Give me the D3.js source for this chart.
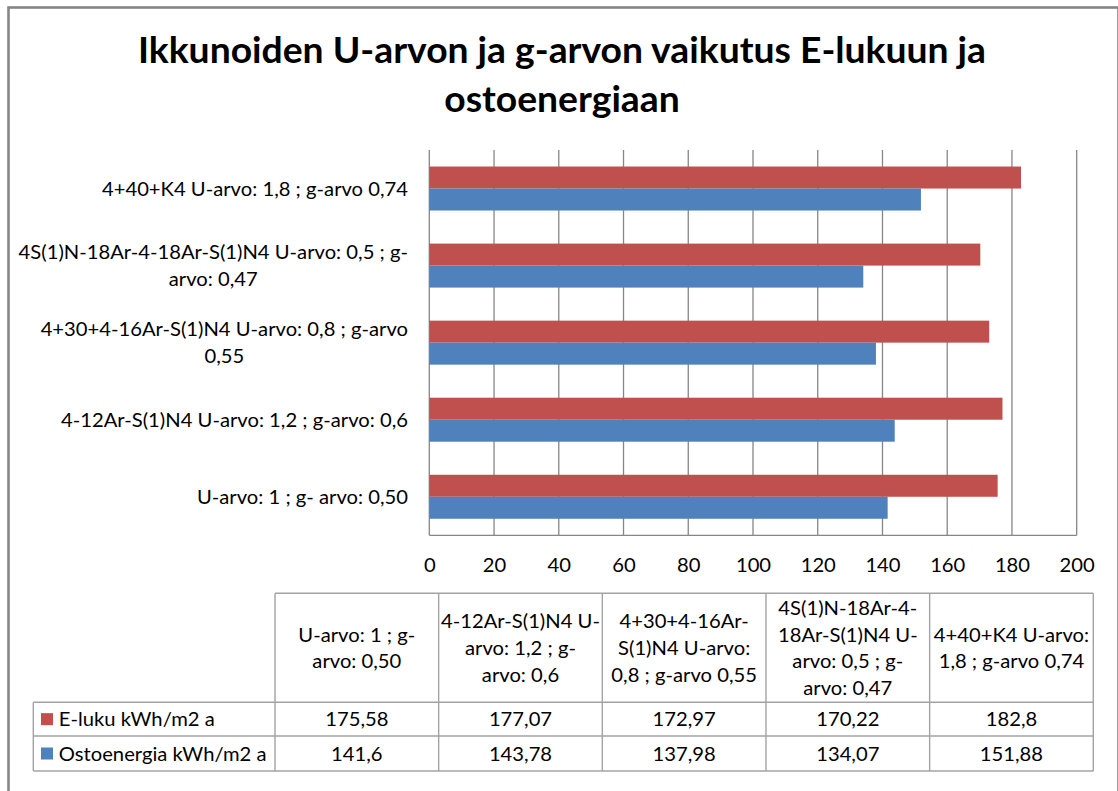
<!DOCTYPE html>
<html>
<head>
<meta charset="utf-8">
<script src="https://cdnjs.cloudflare.com/ajax/libs/d3/7.8.5/d3.min.js"></script>
<style>
  html, body { margin: 0; padding: 0; background: #ffffff; }
  svg { display: block; }
  text { font-family: Lato, "Open Sans", "Noto Sans", sans-serif; fill: #000; }
</style>
</head>
<body>
<svg id="chart" width="1118" height="791"></svg>
<script>
// ---------------- DATA ----------------
const titleLines = ["Ikkunoiden U-arvon ja g-arvon vaikutus E-lukuun ja", "ostoenergiaan"];
const categories = [
  "U-arvo: 1 ; g- arvo: 0,50",
  "4-12Ar-S(1)N4 U-arvo: 1,2 ; g-arvo: 0,6",
  "4+30+4-16Ar-S(1)N4 U-arvo: 0,8 ; g-arvo 0,55",
  "4S(1)N-18Ar-4-18Ar-S(1)N4 U-arvo: 0,5 ; g-arvo: 0,47",
  "4+40+K4 U-arvo: 1,8 ; g-arvo 0,74"
];
const axisLabelLines = [
  ["U-arvo: 1 ; g- arvo: 0,50"],
  ["4-12Ar-S(1)N4 U-arvo: 1,2 ; g-arvo: 0,6"],
  ["4+30+4-16Ar-S(1)N4 U-arvo: 0,8 ; g-arvo", "0,55"],
  ["4S(1)N-18Ar-4-18Ar-S(1)N4 U-arvo: 0,5 ; g-", "arvo: 0,47"],
  ["4+40+K4 U-arvo: 1,8 ; g-arvo 0,74"]
];
const tableHeaderLines = [
  ["U-arvo: 1 ; g-", "arvo: 0,50"],
  ["4-12Ar-S(1)N4 U-", "arvo: 1,2 ; g-", "arvo: 0,6"],
  ["4+30+4-16Ar-", "S(1)N4 U-arvo:", "0,8 ; g-arvo 0,55"],
  ["4S(1)N-18Ar-4-", "18Ar-S(1)N4 U-", "arvo: 0,5 ; g-", "arvo: 0,47"],
  ["4+40+K4 U-arvo:", "1,8 ; g-arvo 0,74"]
];
const seriesNames = ["E-luku kWh/m2 a", "Ostoenergia kWh/m2 a"];
const eLuku = [175.58, 177.07, 172.97, 170.22, 182.8];
const ostoenergia = [141.6, 143.78, 137.98, 134.07, 151.88];
const xTicks = [0, 20, 40, 60, 80, 100, 120, 140, 160, 180, 200];
const seriesColors = ["#C0504D", "#4F81BD"];

// ---------------- SETUP ----------------
const svg = d3.select("#chart");
const series = [eLuku, ostoenergia];
const fiLocale = d3.formatLocale({decimal: ",", thousands: "\u00a0", grouping: [3], currency: ["", " €"]});
const fmt = fiLocale.format("~f");

const gridColor = "#868686";
const tableColor = "#A3A3A3";
const fs = 20;          // regular font size
const lineH = 26.8;     // line spacing for wrapped text
const base = 7.2;       // baseline offset from visual center

// chart border
svg.append("rect")
  .attr("x", 8.5).attr("y", 7.5).attr("width", 1110).attr("height", 900)
  .attr("fill", "#fff").attr("stroke", gridColor).attr("stroke-width", 2.6);

// scales
const x = d3.scaleLinear().domain([0, 200]).range([429.3, 1076.7]);
const y = d3.scaleBand().domain(categories.slice().reverse()).range([150, 535.3])
  .paddingInner(0.429).paddingOuter(0.2145);
const ySub = d3.scaleBand().domain(d3.range(series.length)).range([0, y.bandwidth()]);

// gridlines
const plot = svg.append("g");
plot.selectAll("line.grid").data(xTicks).join("line")
  .attr("x1", d => x(d)).attr("x2", d => x(d))
  .attr("y1", y.range()[0]).attr("y2", y.range()[1])
  .attr("stroke", gridColor).attr("stroke-width", 1.3);
// bottom axis line
plot.append("line")
  .attr("x1", x(0)).attr("x2", x(200)).attr("y1", y.range()[1]).attr("y2", y.range()[1])
  .attr("stroke", gridColor).attr("stroke-width", 1.3);

// bars
series.forEach((vals, si) => {
  plot.append("g").selectAll("rect").data(categories).join("rect")
    .attr("x", x(0))
    .attr("y", (c) => y(c) + ySub(si))
    .attr("width", (c, i) => x(vals[i]) - x(0))
    .attr("height", ySub.bandwidth())
    .attr("fill", seriesColors[si]);
});

// x axis labels
const xAxis = d3.axisBottom(x).tickValues(xTicks).tickSize(0).tickPadding(22.3).tickFormat(d3.format("d"));
const gx = svg.append("g").attr("transform", `translate(0,${y.range()[1]})`).call(xAxis);
gx.select(".domain").remove();
gx.selectAll("text").attr("class", "fit").attr("font-size", fs).attr("font-family", null).attr("fill", "#000");

// title
const titleG = svg.append("g");
titleLines.forEach((t, i) => {
  titleG.append("text").attr("class", "titlefit")
    .attr("x", 562).attr("y", 63 + i * 48.8)
    .attr("text-anchor", "middle")
    .attr("font-size", 36).attr("font-weight", "bold")
    .text(t);
});

// ---------------- TEXT CONDENSING (Calibri-like metrics) ----------------
function natural(sel) { return sel.node().getComputedTextLength(); }
const calib = svg.append("text").attr("font-size", fs).text(axisLabelLines[1][0]);
const kReg = 347 / natural(calib);
calib.remove();
const kBold = 848 / natural(titleG.select("text"));

function fitText(sel, k) {
  sel.each(function() {
    const w = this.getComputedTextLength();
    d3.select(this).attr("textLength", w * k).attr("lengthAdjust", "spacingAndGlyphs");
  });
}
fitText(titleG.selectAll("text"), kBold);

// category labels (right-aligned block, lines centered within block)
const yLab = svg.append("g");
categories.forEach((c, i) => {
  const lines = axisLabelLines[i];
  const cy = y(c) + y.bandwidth() / 2;
  const texts = lines.map((l, j) => yLab.append("text")
    .attr("font-size", fs).attr("text-anchor", "middle")
    .attr("y", cy + (j - (lines.length - 1) / 2) * lineH + base)
    .text(l));
  const maxW = d3.max(texts, t => natural(t)) * kReg;
  texts.forEach(t => { fitText(t, kReg); t.attr("x", 408 - maxW / 2); });
});

fitText(gx.selectAll("text"), kReg);

// ---------------- DATA TABLE ----------------
const tx = d3.scaleBand().domain(categories).range([275, 1093.3]);
const rowsY = [593.3, 702.3, 736, 771];
const legendLeft = 33.3;
const table = svg.append("g");

// header text
categories.forEach((c, i) => {
  const lines = tableHeaderLines[i];
  const cy = (rowsY[0] + rowsY[1]) / 2;
  lines.forEach((l, j) => {
    const t = table.append("text").attr("font-size", fs).attr("text-anchor", "middle")
      .attr("x", tx(c) + tx.bandwidth() / 2)
      .attr("y", cy + (j - (lines.length - 1) / 2) * lineH + base)
      .text(l);
    fitText(t, kReg);
  });
});

// value rows
series.forEach((vals, si) => {
  const cy = (rowsY[si + 1] + rowsY[si + 2]) / 2;
  categories.forEach((c, i) => {
    const t = table.append("text").attr("font-size", fs).attr("text-anchor", "middle")
      .attr("x", tx(c) + tx.bandwidth() / 2).attr("y", cy + base)
      .text(fmt(vals[i]));
    fitText(t, kReg);
  });
  table.append("rect")
    .attr("x", legendLeft + 7.7).attr("y", cy - 6).attr("width", 12).attr("height", 12)
    .attr("fill", seriesColors[si]);
  const lt = table.append("text").attr("font-size", fs).attr("text-anchor", "start")
    .attr("x", legendLeft + 25.5).attr("y", cy + base).text(seriesNames[si]);
  fitText(lt, kReg);
});

// table grid lines
const tl = table.append("g").attr("stroke", tableColor).attr("stroke-width", 1.4);
// header top
tl.append("line").attr("x1", tx.range()[0]).attr("x2", tx.range()[1]).attr("y1", rowsY[0]).attr("y2", rowsY[0]);
// row separators (full width)
[rowsY[1], rowsY[2], rowsY[3]].forEach(yy => {
  tl.append("line").attr("x1", legendLeft).attr("x2", tx.range()[1]).attr("y1", yy).attr("y2", yy);
});
// legend column left
tl.append("line").attr("x1", legendLeft).attr("x2", legendLeft).attr("y1", rowsY[1]).attr("y2", rowsY[3]);
// column boundaries
categories.forEach(c => {
  tl.append("line").attr("x1", tx(c)).attr("x2", tx(c)).attr("y1", rowsY[0]).attr("y2", rowsY[3]);
});
tl.append("line").attr("x1", tx.range()[1]).attr("x2", tx.range()[1]).attr("y1", rowsY[0]).attr("y2", rowsY[3]);
</script>
</body>
</html>
